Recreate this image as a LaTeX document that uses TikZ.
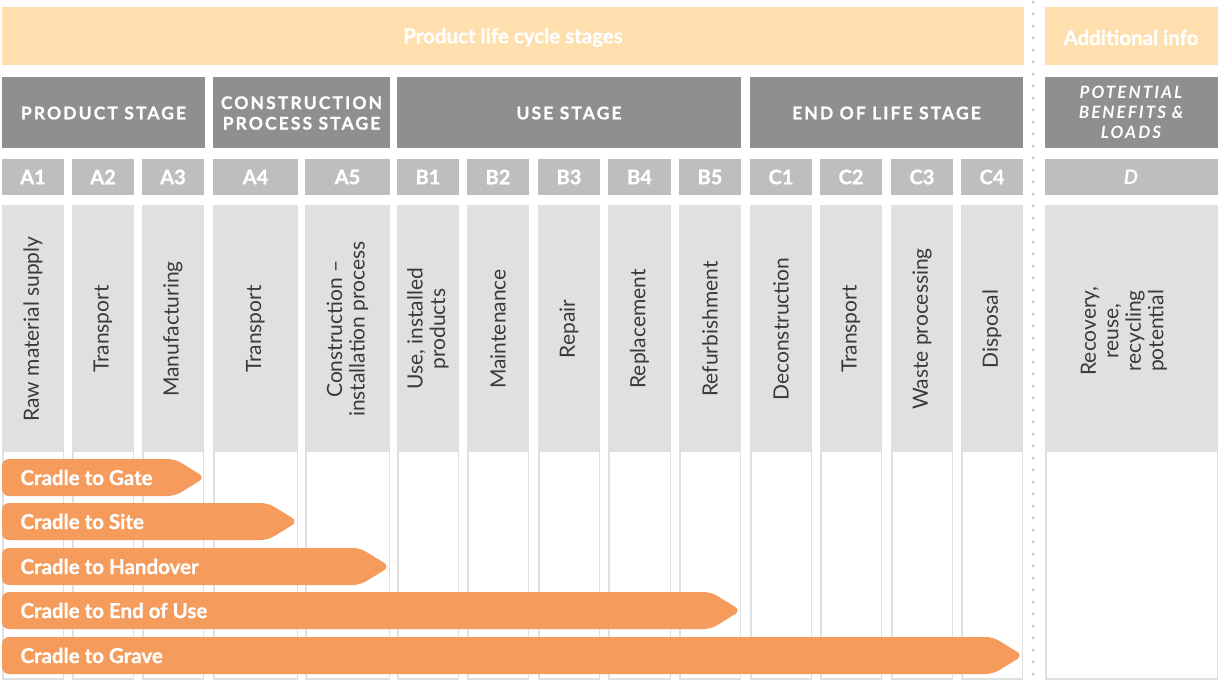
\documentclass[tikz,border=0pt]{standalone}
\usepackage{fontspec}
\setmainfont{Lato}[BoldFeatures={FakeBold=1}]
\newfontfamily\spacedfont{Lato}[LetterSpace=12, BoldFeatures={FakeBold=1}]

\definecolor{bannerorange}{HTML}{FEDFAD}
\definecolor{stagegray}{HTML}{8F8F8F}
\definecolor{codegray}{HTML}{BEBEBE}
\definecolor{descgray}{HTML}{E0E0E0}
\definecolor{cradleorange}{HTML}{F59B5B}
\definecolor{dotorange}{HTML}{F0B48A}
\definecolor{txtgray}{HTML}{3A3A3A}

\begin{document}
\begin{tikzpicture}[x=1pt, y=-1pt,
    banner/.style={fill=bannerorange},
    bannertext/.style={text=white, font=\bfseries\fontsize{20.5}{22}\selectfont},
    stagebox/.style={fill=stagegray},
    stagetext/.style={text=white, align=center,
        font=\spacedfont\bfseries\fontsize{17.5}{20.5}\selectfont},
    codebox/.style={fill=codegray},
    codetext/.style={text=white, font=\bfseries\fontsize{20}{22}\selectfont},
    colbox/.style={draw=descgray, line width=1.5pt, fill=white},
    descbox/.style={fill=descgray},
    desctext/.style={text=txtgray, rotate=90, align=center,
        font=\fontsize{21}{22.5}\selectfont},
    cradle/.style={fill=cradleorange, rounded corners=7pt},
    cradletext/.style={text=white, anchor=west,
        font=\bfseries\fontsize{20.5}{22}\selectfont}
    ]

    \useasboundingbox (0,0) rectangle (1218,681);
    \fill[white] (0,0) rectangle (1218,681);

    % banners on top
    \fill[banner] (2,7) rectangle (1024,65);
    \node[bannertext] (lifecycle) at (513,37.5) {Product life cycle stages};
    \fill[banner] (1045,7) rectangle (1218,65);
    \node[bannertext] (addinfo) at (1131,37.5) {Additional info};

    % stage headers
    \foreach \key/\xa/\xb/\txt in {
        product/2/205/{PRODUCT STAGE},
        construction/213/390/{CONSTRUCTION\\PROCESS STAGE},
        use/397/741/{USE STAGE},
        eol/750/1023/{END OF LIFE STAGE}} {
        \fill[stagebox] (\xa,77) rectangle (\xb,148);
        \node[stagetext] (stage-\key) at ({(\xa+\xb)/2},113) {\txt};
    }
    \fill[stagebox] (1045,77) rectangle (1218,148);
    \node[stagetext, font=\spacedfont\bfseries\itshape\fontsize{17}{20}\selectfont]
        (stage-benefits) at (1131,112.5) {POTENTIAL\\BENEFITS \&\\LOADS};

    % module columns
    \foreach \key/\xa/\xb/\code/\txt in {
        a1/2/64/A1/{Raw material supply},
        a2/72/134/A2/Transport,
        a3/142/204/A3/Manufacturing,
        a4/213/298/A4/Transport,
        a5/305/390/A5/{Construction –\\installation process},
        b1/397/459/B1/{Use, installed\\products},
        b2/467/529/B2/Maintenance,
        b3/538/600/B3/Repair,
        b4/608/671/B4/Replacement,
        b5/679/741/B5/Refurbishment,
        c1/750/812/C1/Deconstruction,
        c2/820/882/C2/Transport,
        c3/891/953/C3/{Waste processing},
        c4/961/1023/C4/Disposal} {
        \fill[codebox] (\xa,159) rectangle (\xb,195);
        \node[codetext] (code-\key) at ({(\xa+\xb)/2},177) {\code};
        \draw[colbox] (\xa+0.75,206) rectangle (\xb-0.75,679);
        \fill[descbox] (\xa,206) rectangle (\xb,452);
        \node[desctext] (desc-\key) at ({(\xa+\xb)/2},329) {\txt};
    }

    % module D
    \fill[codebox] (1045,159) rectangle (1218,195);
    \node[codetext, font=\bfseries\itshape\fontsize{20}{22}\selectfont]
        (code-d) at (1131,177) {D};
    \draw[colbox] (1045.75,206) rectangle (1217.25,679);
    \fill[descbox] (1045,206) rectangle (1218,452);
    \node[desctext] (desc-d) at (1124,331) {Recovery,\\reuse,\\recycling\\potential};

    % dotted separator
    \coordinate (sep-top) at (1033,2);
    \coordinate (sep-bot) at (1033,680);
    \draw[dotorange, line width=3pt, line cap=round, dash pattern=on 0pt off 12pt]
        (sep-top) -- (sep-bot);

    % cradle-to-x scopes
    \foreach \key/\ya/\tip/\txt in {
        gate/459/205/Gate,
        site/503/298/Site,
        handover/548/390/Handover,
        enduse/592/741/{End of Use},
        grave/637/1023/Grave} {
        \fill[cradle] (2,\ya) -- (\tip-30,\ya) -- (\tip,\ya+18.5)
            -- (\tip-30,\ya+37) -- (2,\ya+37) -- cycle;
        \node[cradletext] (cradle-\key) at (17,\ya+18.5) {Cradle to \txt};
    }

\end{tikzpicture}
\end{document}
